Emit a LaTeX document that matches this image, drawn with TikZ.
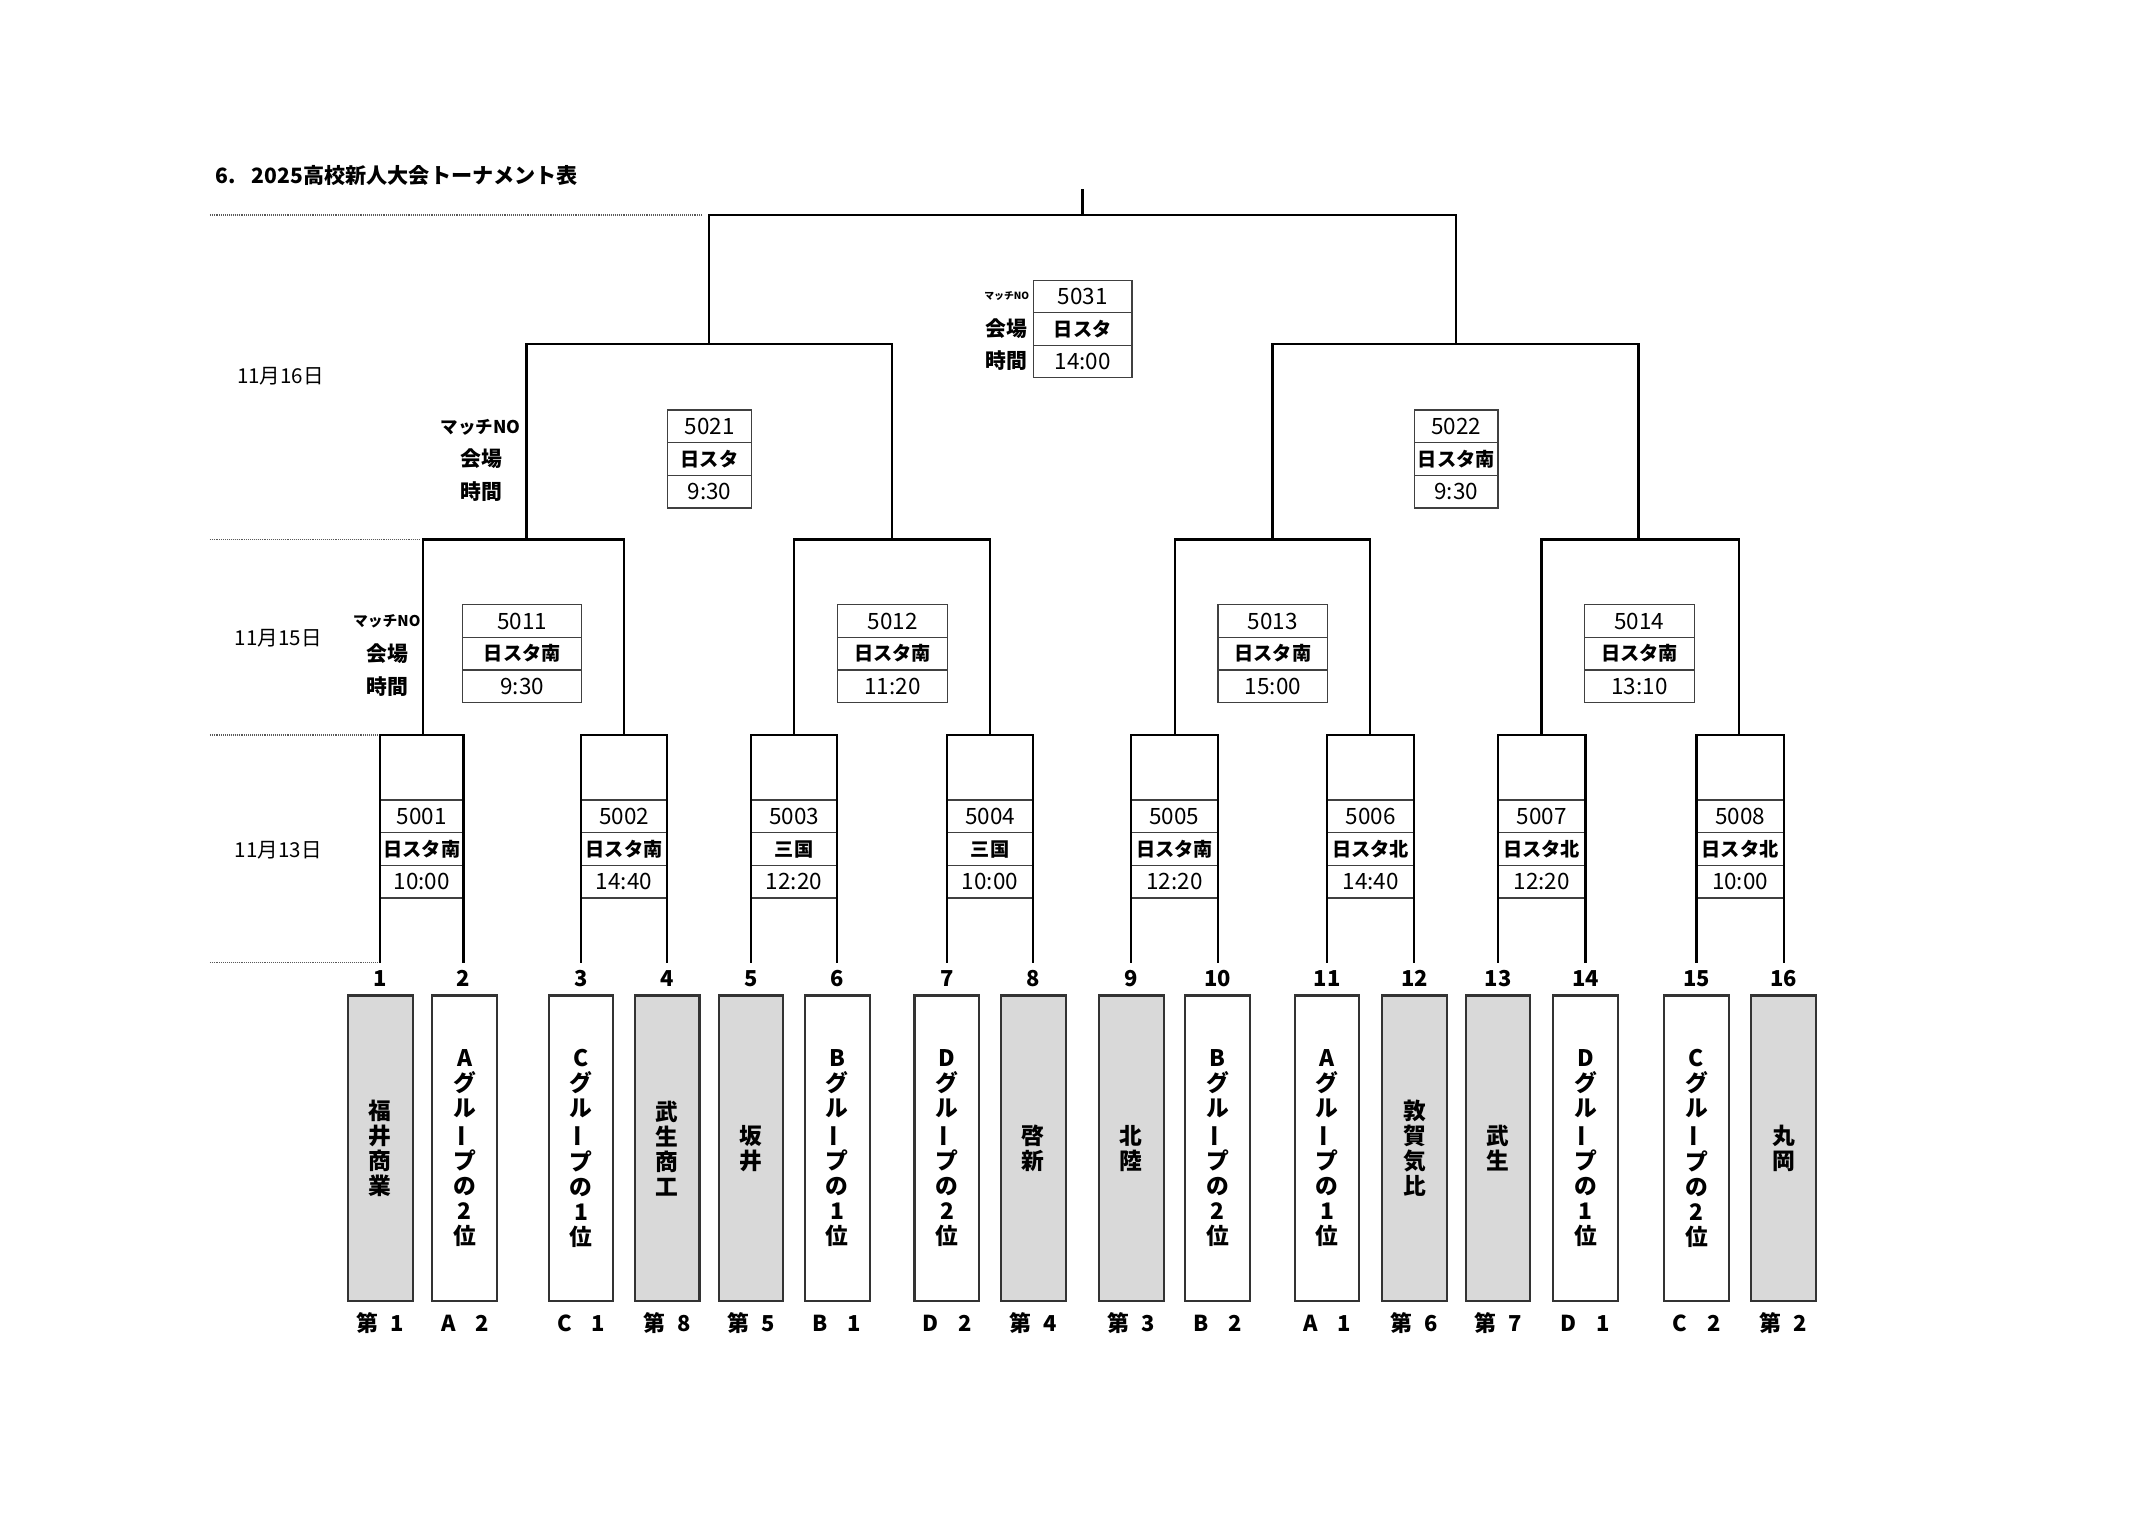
\documentclass[tikz,border=0pt]{standalone}
\usepackage{fontspec}
\setmainfont{Noto Sans CJK JP}
\definecolor{teamgray}{HTML}{D9D9D9}
\definecolor{boxline}{HTML}{404040}
\newcommand{\vchoon}{\rotatebox[origin=c]{90}{ー}}
\newcommand{\fsz}[1]{\fontsize{#1}{#1}\selectfont}
\newcommand{\matchbox}[8]{%
  \draw[mline] (#2,#4) rectangle (#3,{#4+3*#5});
  \draw[mline] (#2,{#4+#5}) -- (#3,{#4+#5});
  \draw[mline] (#2,{#4+2*#5}) -- (#3,{#4+2*#5});
  \node[numtxt] (#1-no) at ({(#2+#3)/2},{#4+0.5*#5}) {#6};
  \node[ventxt] (#1-ven) at ({(#2+#3)/2},{#4+1.5*#5}) {#7};
  \node[numtxt] (#1-time) at ({(#2+#3)/2},{#4+2.5*#5}) {#8};
}
\tikzset{
  br/.style={line width=0.8pt, draw=black, line join=miter},
  mline/.style={line width=0.45pt, draw=boxline},
  dotline/.style={line width=0.6pt, draw=black!65, dash pattern=on 0.35pt off 0.35pt},
  numtxt/.style={inner sep=0pt, font=\fsz{8.2}},
  ventxt/.style={inner sep=0pt, font=\fsz{7}\bfseries},
  teambox/.style={draw=black!80, line width=0.75pt, minimum width=23.65pt, minimum height=111.5pt, inner sep=0pt, align=center, font=\fontsize{8.3}{9.1}\selectfont\bfseries},
  named/.style={teambox, fill=teamgray},
  group/.style={teambox, fill=white},
  tnum/.style={inner sep=0pt, font=\fsz{8}\bfseries},
  seed/.style={inner sep=0pt, font=\fsz{8}\bfseries},
  daylab/.style={inner sep=0pt, font=\fsz{7.5}},
  lab/.style={inner sep=0pt, font=\fsz{7.6}\bfseries}
}
\begin{document}
\begin{tikzpicture}[x=0.5pt,y=-0.5pt]
\useasboundingbox (0,0) rectangle (1568,1107);

% title
\node[anchor=west, inner sep=0pt, font=\fsz{7.7}\bfseries] (title) at (157,128) {6.\hspace{0.75em}2025高校新人大会トーナメント表};

% day labels
\node[daylab] (d16) at (204.5,274.5) {11月16日};
\node[daylab] (d15) at (203,465.5) {11月15日};
\node[daylab] (d13) at (203,620) {11月13日};

% coordinates
\foreach \i/\x in {1/277.3,2/338,3/423.8,4/486.4,5/547.7,6/610.5,7/690.6,8/753.5,9/825,10/888,11/967.8,12/1031.5,13/1092.5,14/1156.3,15/1237.3,16/1300.8}
  \coordinate (L\i) at (\x,702);
\foreach \i/\x in {1/308.7,2/455,3/579.1,4/722,5/856.8,6/999.4,7/1124.2,8/1268}
  \coordinate (Q\i) at (\x,536);
\foreach \i/\x in {1/384,2/650.5,3/928,4/1195}
  \coordinate (S\i) at (\x,393.5);
\coordinate (F1) at (517,251);
\coordinate (F2) at (1061.6,251);
\coordinate (W) at (789.5,157);
\coordinate (Wtop) at (789.5,138);

% dotted guide lines
\coordinate (g1a) at (153,157);   \coordinate (g1b) at (512,157);
\coordinate (g2a) at (153,393.5); \coordinate (g2b) at (306,393.5);
\coordinate (g3a) at (153,536);   \coordinate (g3b) at (275,536);
\coordinate (g4a) at (153,702);   \coordinate (g4b) at (275,702);
\draw[dotline] (g1a) -- (g1b);
\draw[dotline] (g2a) -- (g2b);
\draw[dotline] (g3a) -- (g3b);
\draw[dotline] (g4a) -- (g4b);

% round 1 match boxes
\matchbox{m5001}{277.3}{338}{583.5}{23.8}{5001}{日スタ南}{10:00}
\matchbox{m5002}{423.8}{486.4}{583.5}{23.8}{5002}{日スタ南}{14:40}
\matchbox{m5003}{547.7}{610.5}{583.5}{23.8}{5003}{三国}{12:20}
\matchbox{m5004}{690.6}{753.5}{583.5}{23.8}{5004}{三国}{10:00}
\matchbox{m5005}{825}{888}{583.5}{23.8}{5005}{日スタ南}{12:20}
\matchbox{m5006}{967.8}{1031.5}{583.5}{23.8}{5006}{日スタ北}{14:40}
\matchbox{m5007}{1092.5}{1156.3}{583.5}{23.8}{5007}{日スタ北}{12:20}
\matchbox{m5008}{1237.3}{1300.8}{583.5}{23.8}{5008}{日スタ北}{10:00}
% quarter finals
\matchbox{m5011}{337.4}{424.3}{441}{23.8}{5011}{日スタ南}{9:30}
\matchbox{m5012}{610.9}{691}{441}{23.8}{5012}{日スタ南}{11:20}
\matchbox{m5013}{888.3}{968.4}{441}{23.8}{5013}{日スタ南}{15:00}
\matchbox{m5014}{1155.6}{1235.6}{441}{23.8}{5014}{日スタ南}{13:10}
% semi finals
\matchbox{m5021}{487}{548}{299}{23.8}{5021}{日スタ}{9:30}
\matchbox{m5022}{1031.5}{1092.5}{299}{23.8}{5022}{日スタ南}{9:30}
% final
\matchbox{m5031}{753.6}{825.5}{204.5}{23.6}{5031}{日スタ}{14:00}

% brackets
\draw[br] (L1) |- (Q1) -| (L2);
\draw[br] (L3) |- (Q2) -| (L4);
\draw[br] (L5) |- (Q3) -| (L6);
\draw[br] (L7) |- (Q4) -| (L8);
\draw[br] (L9) |- (Q5) -| (L10);
\draw[br] (L11) |- (Q6) -| (L12);
\draw[br] (L13) |- (Q7) -| (L14);
\draw[br] (L15) |- (Q8) -| (L16);
\draw[br] (Q1) |- (S1) -| (Q2);
\draw[br] (Q3) |- (S2) -| (Q4);
\draw[br] (Q5) |- (S3) -| (Q6);
\draw[br] (Q7) |- (S4) -| (Q8);
\draw[br] (S1) |- (F1) -| (S2);
\draw[br] (S3) |- (F2) -| (S4);
\draw[br] (F1) |- (W) -| (F2);
\draw[br] (W) -- (Wtop);

% row labels
\node[anchor=east, inner sep=0pt, font=\fsz{3.6}\bfseries] (fmno) at (751,216) {マッチNO};
\node[lab] (fkai) at (734,239.5) {会場};
\node[lab] (fjik) at (734,263) {時間};
\node[anchor=east, inner sep=0pt, font=\fsz{6.4}\bfseries] (smno) at (380,311.5) {マッチNO};
\node[lab] (skai) at (351,334.5) {会場};
\node[lab] (sjik) at (351,358.5) {時間};
\node[anchor=east, inner sep=0pt, font=\fsz{5.4}\bfseries] (qmno) at (307,453) {マッチNO};
\node[lab] (qkai) at (282.5,476.5) {会場};
\node[lab] (qjik) at (282.5,500.5) {時間};

% team numbers
\foreach \i in {1,...,16}
  \node[tnum] (n\i) at ([yshift=-5.75pt]L\i) {\i};

% team boxes
\node[named] (t1)  at (277.3,837.5)  {福\\井\\商\\業};
\node[group] (t2)  at (339,837.5)    {A\\グ\\ル\\\vchoon\\プ\\の\\2\\位};
\node[group] (t3)  at (423.7,837.5)  {C\\グ\\ル\\\vchoon\\プ\\の\\1\\位};
\node[named] (t4)  at (486.5,837.5)  {武\\生\\商\\工};
\node[named] (t5)  at (547.7,837.5)  {坂\\井};
\node[group] (t6)  at (610.5,837.5)  {B\\グ\\ル\\\vchoon\\プ\\の\\1\\位};
\node[group] (t7)  at (690.6,837.5)  {D\\グ\\ル\\\vchoon\\プ\\の\\2\\位};
\node[named] (t8)  at (753.5,837.5)  {啓\\新};
\node[named] (t9)  at (825,837.5)    {北\\陸};
\node[group] (t10) at (888,837.5)    {B\\グ\\ル\\\vchoon\\プ\\の\\2\\位};
\node[group] (t11) at (967.8,837.5)  {A\\グ\\ル\\\vchoon\\プ\\の\\1\\位};
\node[named] (t12) at (1031.5,837.5) {敦\\賀\\気\\比};
\node[named] (t13) at (1092.5,837.5) {武\\生};
\node[group] (t14) at (1156.3,837.5) {D\\グ\\ル\\\vchoon\\プ\\の\\1\\位};
\node[group] (t15) at (1237.3,837.5) {C\\グ\\ル\\\vchoon\\プ\\の\\2\\位};
\node[named] (t16) at (1300.8,837.5) {丸\\岡};

% seed labels
\foreach \i in {1,...,16}
  \coordinate (sc\i) at ([yshift=-7.6pt]t\i.south);
\node[seed] (s1)  at (sc1)  {第\hspace{0.55em}1};
\node[seed] (s2)  at (sc2)  {A\hspace{0.9em}2};
\node[seed] (s3)  at (sc3)  {C\hspace{0.9em}1};
\node[seed] (s4)  at (sc4)  {第\hspace{0.55em}8};
\node[seed] (s5)  at (sc5)  {第\hspace{0.55em}5};
\node[seed] (s6)  at (sc6)  {B\hspace{0.9em}1};
\node[seed] (s7)  at (sc7)  {D\hspace{0.9em}2};
\node[seed] (s8)  at (sc8)  {第\hspace{0.55em}4};
\node[seed] (s9)  at (sc9)  {第\hspace{0.55em}3};
\node[seed] (s10) at (sc10) {B\hspace{0.9em}2};
\node[seed] (s11) at (sc11) {A\hspace{0.9em}1};
\node[seed] (s12) at (sc12) {第\hspace{0.55em}6};
\node[seed] (s13) at (sc13) {第\hspace{0.55em}7};
\node[seed] (s14) at (sc14) {D\hspace{0.9em}1};
\node[seed] (s15) at (sc15) {C\hspace{0.9em}2};
\node[seed] (s16) at (sc16) {第\hspace{0.55em}2};
\end{tikzpicture}
\end{document}
